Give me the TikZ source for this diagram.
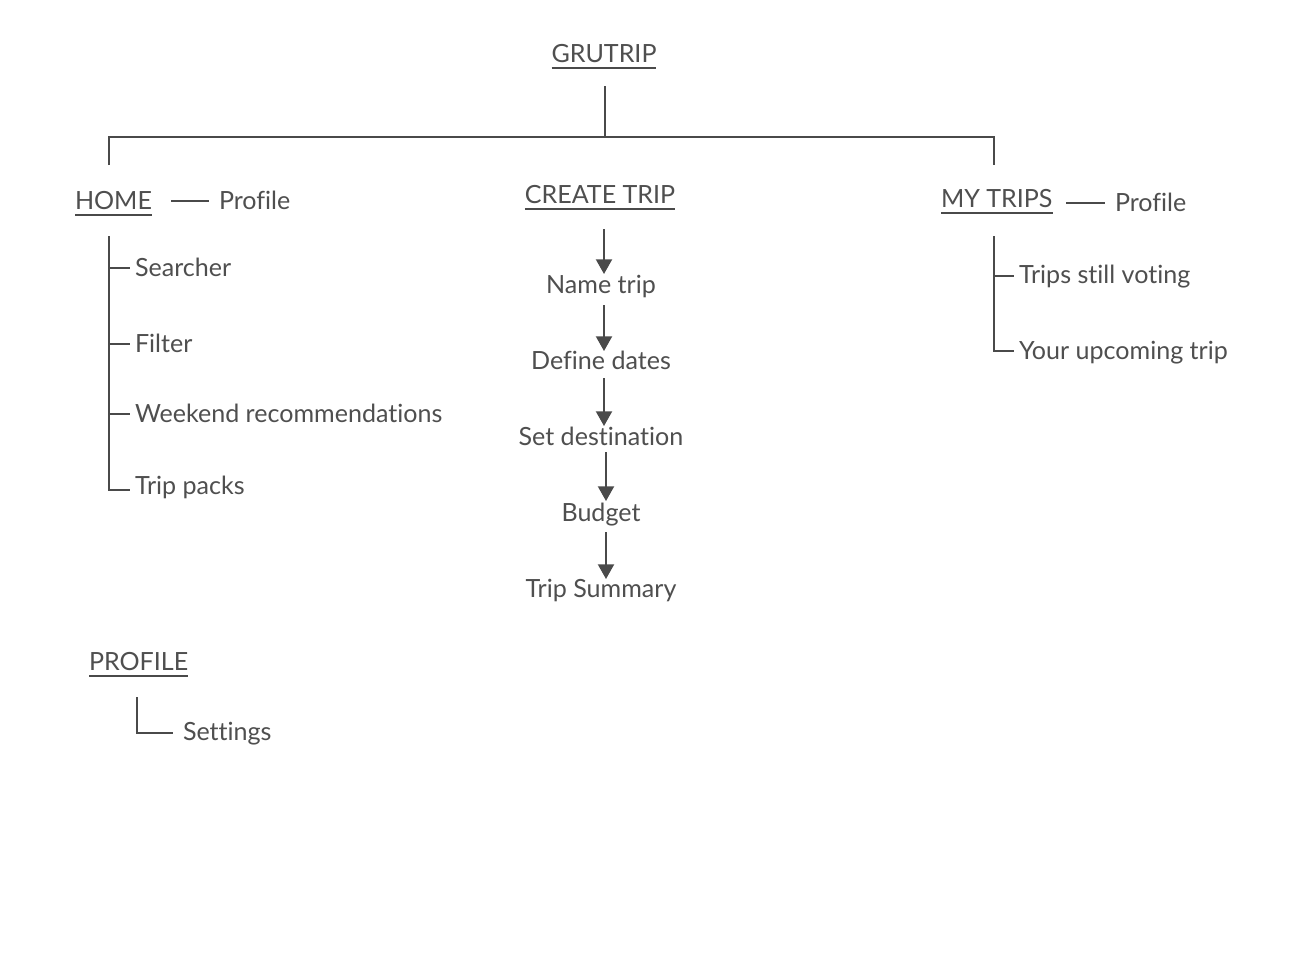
\documentclass[tikz,border=0pt]{standalone}
\usepackage{fontspec}
\setmainfont{Lato}[Ligatures=NoCommon]
\usetikzlibrary{arrows.meta}
\definecolor{ink}{HTML}{4A4A4A}
\definecolor{txt}{HTML}{4F4F4F}
\begin{document}
\begin{tikzpicture}[x=0.75pt,y=-0.75pt,
  lbl/.style={inner sep=0pt, outer sep=0pt, text=txt, font=\fontsize{18.8}{20}\selectfont},
  ttl/.style={lbl},
  line/.style={draw=ink, line width=1.5pt},
  arr/.style={line, -{Triangle[width=12pt,length=11pt]}}]
\useasboundingbox[fill=white] (0,0) rectangle (1290,958);

% titles
\node[ttl, anchor=base] (grutrip) at (604,62) {GRUTRIP};
\node[ttl, anchor=base west] (home) at (75,209) {HOME};
\node[ttl, anchor=base] (create) at (600,203) {CREATE TRIP};
\node[ttl, anchor=base west] (mytrips) at (941,207) {MY TRIPS};
\node[ttl, anchor=base west] (profile) at (89,670) {PROFILE};

\foreach \n in {grutrip,home,create,mytrips,profile}
  \draw[line] ([yshift=-4.5pt]\n.base west) -- ([yshift=-4.5pt]\n.base east);

% home children
\node[lbl, anchor=base west] (hprof) at (219,209) {Profile};
\node[lbl, anchor=base west] (search) at (135,276) {Searcher};
\node[lbl, anchor=base west] (filter) at (135,352) {Filter};
\node[lbl, anchor=base west] (week) at (135,422) {Weekend recommendations};
\node[lbl, anchor=base west] (packs) at (135,494) {Trip packs};

% create trip chain
\node[lbl, anchor=base] (name) at (601,293) {Name trip};
\node[lbl, anchor=base] (dates) at (601,369) {Define dates};
\node[lbl, anchor=base] (dest) at (601,445) {Set destination};
\node[lbl, anchor=base] (budget) at (601,521) {Budget};
\node[lbl, anchor=base] (summary) at (601,597) {Trip Summary};

% my trips children
\node[lbl, anchor=base west] (mprof) at (1115,211) {Profile};
\node[lbl, anchor=base west] (voting) at (1019,283) {Trips still voting};
\node[lbl, anchor=base west] (upcoming) at (1019,359) {Your upcoming trip};

% profile child
\node[lbl, anchor=base west] (settings) at (183,740) {Settings};

% tree lines
\coordinate (top) at (605,86);
\coordinate (bar) at (605,137);
\coordinate (hl) at (109,137);
\coordinate (hr) at (994,137);
\draw[line] (top) -- (bar);
\draw[line] (109,165) -- (hl) -- (hr) -- (994,165);

% profile links
\draw[line] (171,201) -- (209,201);
\draw[line] (1066,203) -- (1105,203);

% home list
\draw[line] (109,236) -- (109,490) -- (130,490);
\foreach \y in {268,344,414} \draw[line] (109,\y) -- (130,\y);

% my trips list
\draw[line] (994,236) -- (994,351) -- (1014,351);
\draw[line] (994,276) -- (1014,276);

% profile
\draw[line] (137,697) -- (137,733) -- (173,733);

% arrows
\draw[arr] (604,229) -- (604,274);
\draw[arr] (604,305) -- (604,351);
\draw[arr] (604,378) -- (604,426);
\draw[arr] (606,452) -- (606,501);
\draw[arr] (606,532) -- (606,579);
\end{tikzpicture}
\end{document}
